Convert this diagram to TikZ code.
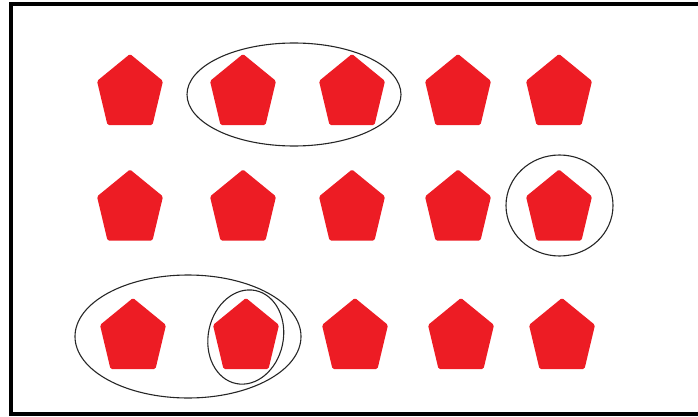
\documentclass[tikz,border=0pt]{standalone}
\usepackage{xcolor}
\usepackage{tikz}
\usetikzlibrary{calc}

\definecolor{paintred}{RGB}{237,28,36}

\tikzset{
  frame/.style={line width=4pt},
  ring/.style={line width=1.1pt, black!85},
  gem/.pic={
    \fill[paintred, rounded corners=1.5pt]
      (0,-35.5) -- (33,-8.5) -- (22.5,35.5) -- (-22.5,35.5) -- (-33,-8.5) -- cycle;
  }
}

\begin{document}
\begin{tikzpicture}[x=1pt,y=-1pt]
  \useasboundingbox (0,0) rectangle (698,417);

  % Frame (open on the right)
  \draw[frame] (700,4) -- (11,4) -- (11,414) -- (700,414);

  % Pentagon centres
  \foreach \name/\x/\y in {a1/130/89.5, a2/243/89.5, a3/352/89.5, a4/458/89.5, a5/559/89.5,
                          b1/130/205, b2/243/205, b3/352/205, b4/458/205, b5/559/205,
                          c1/133/333.5, c2/246/333.5, c3/355/333.5, c4/461/333.5, c5/562/333.5}
    \coordinate (\name) at (\x,\y);

  % Pentagons
  \foreach \name in {a1,a2,a3,a4,a5,b1,b2,b3,b4,b5,c1,c2,c3,c4,c5}
    \pic at (\name) {gem};

  % Groupings
  \draw[ring] ($(a2)!0.5!(a3)+(-3.5,5)$) ellipse [x radius=107, y radius=51.5];
  \draw[ring] ($(b5)+(0.5,0.5)$) ellipse [x radius=53.5, y radius=50.5];
  \draw[ring] ($(c1)!0.5!(c2)+(-1.5,3)$) ellipse [x radius=113, y radius=61.5];
  \draw[ring, rotate around={-12:($(c2)+(0.5,3.5)$)}] ($(c2)+(0.5,3.5)$) ellipse [x radius=37.5, y radius=47.5];
\end{tikzpicture}
\end{document}
